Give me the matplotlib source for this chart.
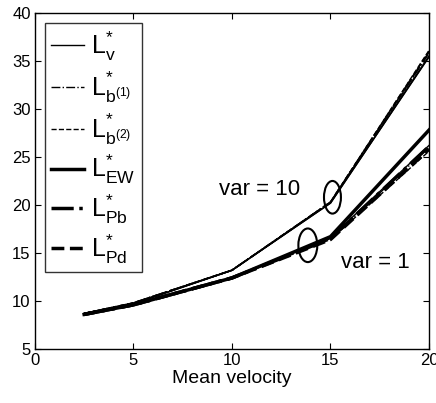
import matplotlib
matplotlib.use("Agg")
import matplotlib.pyplot as plt
from matplotlib.patches import Ellipse

plt.rcParams['font.family'] = ['Liberation Sans', 'DejaVu Sans']
plt.rcParams['mathtext.fontset'] = 'custom'
plt.rcParams['mathtext.rm'] = 'Liberation Sans'
plt.rcParams['mathtext.it'] = 'Liberation Sans'
plt.rcParams['mathtext.bf'] = 'Liberation Sans:bold'

velocity = [2.5, 5, 10, 15, 20]
# var = 10
Lv_10  = [8.7, 9.7, 13.2, 20.2, 35.4]
Lb1_10 = [8.7, 9.8, 13.2, 20.3, 35.8]
Lb2_10 = [8.7, 9.8, 13.2, 20.3, 36.1]
LEW_10 = [8.7, 9.7, 13.2, 20.2, 35.5]
LPb_10 = [8.7, 9.8, 13.2, 20.3, 35.9]
LPd_10 = [8.7, 9.8, 13.2, 20.3, 36.0]
# var = 1
Lv_1  = [8.6, 9.6, 12.4, 16.6, 26.2]
Lb1_1 = [8.6, 9.6, 12.4, 16.5, 26.0]
Lb2_1 = [8.6, 9.6, 12.4, 16.4, 25.6]
LEW_1 = [8.6, 9.6, 12.4, 16.7, 27.8]
LPb_1 = [8.6, 9.6, 12.4, 16.5, 26.1]
LPd_1 = [8.6, 9.6, 12.4, 16.4, 25.8]

labels = [r'$\mathrm{L}_{\mathrm{v}}^{*}$', r'$\mathrm{L}_{\mathrm{b}^{(1)}}^{*}$',
          r'$\mathrm{L}_{\mathrm{b}^{(2)}}^{*}$', r'$\mathrm{L}_{\mathrm{EW}}^{*}$',
          r'$\mathrm{L}_{\mathrm{Pb}}^{*}$', r'$\mathrm{L}_{\mathrm{Pd}}^{*}$']
styles = [('-', 1.0), ('-.', 1.0), ('--', 1.0), ('-', 2.5), ('-.', 2.5), ('--', 2.5)]

fig = plt.figure(figsize=(4.36, 4.03), dpi=100)
ax = fig.add_axes([0.080, 0.134, 0.904, 0.834])

series10 = [Lv_10, Lb1_10, Lb2_10, LEW_10, LPb_10, LPd_10]
series1 = [Lv_1, Lb1_1, Lb2_1, LEW_1, LPb_1, LPd_1]
for (ls, lw), lab, s10, s1 in zip(styles, labels, series10, series1):
    ax.plot(velocity, s10, color='black', ls=ls, lw=lw if lw < 2 else 1.2)
    ax.plot(velocity, s1, color='black', ls=ls, lw=lw, label=lab)

ax.add_patch(Ellipse((15.1, 20.8), 0.86, 3.4, fill=False, lw=1.5, color='black'))
ax.add_patch(Ellipse((13.85, 15.8), 0.96, 3.5, fill=False, lw=1.5, color='black'))
ax.text(11.4, 21.6, 'var = 10', fontsize=16, ha='center', va='center')
ax.text(17.3, 14.0, 'var = 1', fontsize=16, ha='center', va='center')

ax.set_xlim(0, 20)
ax.set_ylim(5, 40)
ax.set_xticks([0, 5, 10, 15, 20])
ax.set_yticks([5, 10, 15, 20, 25, 30, 35, 40])
ax.tick_params(direction='in', top=True, right=True, labelsize=12, length=4, pad=3)
ax.set_xlabel('Mean velocity', fontsize=14, labelpad=1)
for sp in ax.spines.values():
    sp.set_linewidth(1.0)

leg = ax.legend(loc='upper left', fontsize=18, frameon=True, fancybox=False,
                edgecolor='black', handlelength=1.3, labelspacing=0.25,
                borderaxespad=0.4, handletextpad=0.3, borderpad=0.25)
leg.get_frame().set_linewidth(1.0)

fig.savefig('out.png', dpi=100)
